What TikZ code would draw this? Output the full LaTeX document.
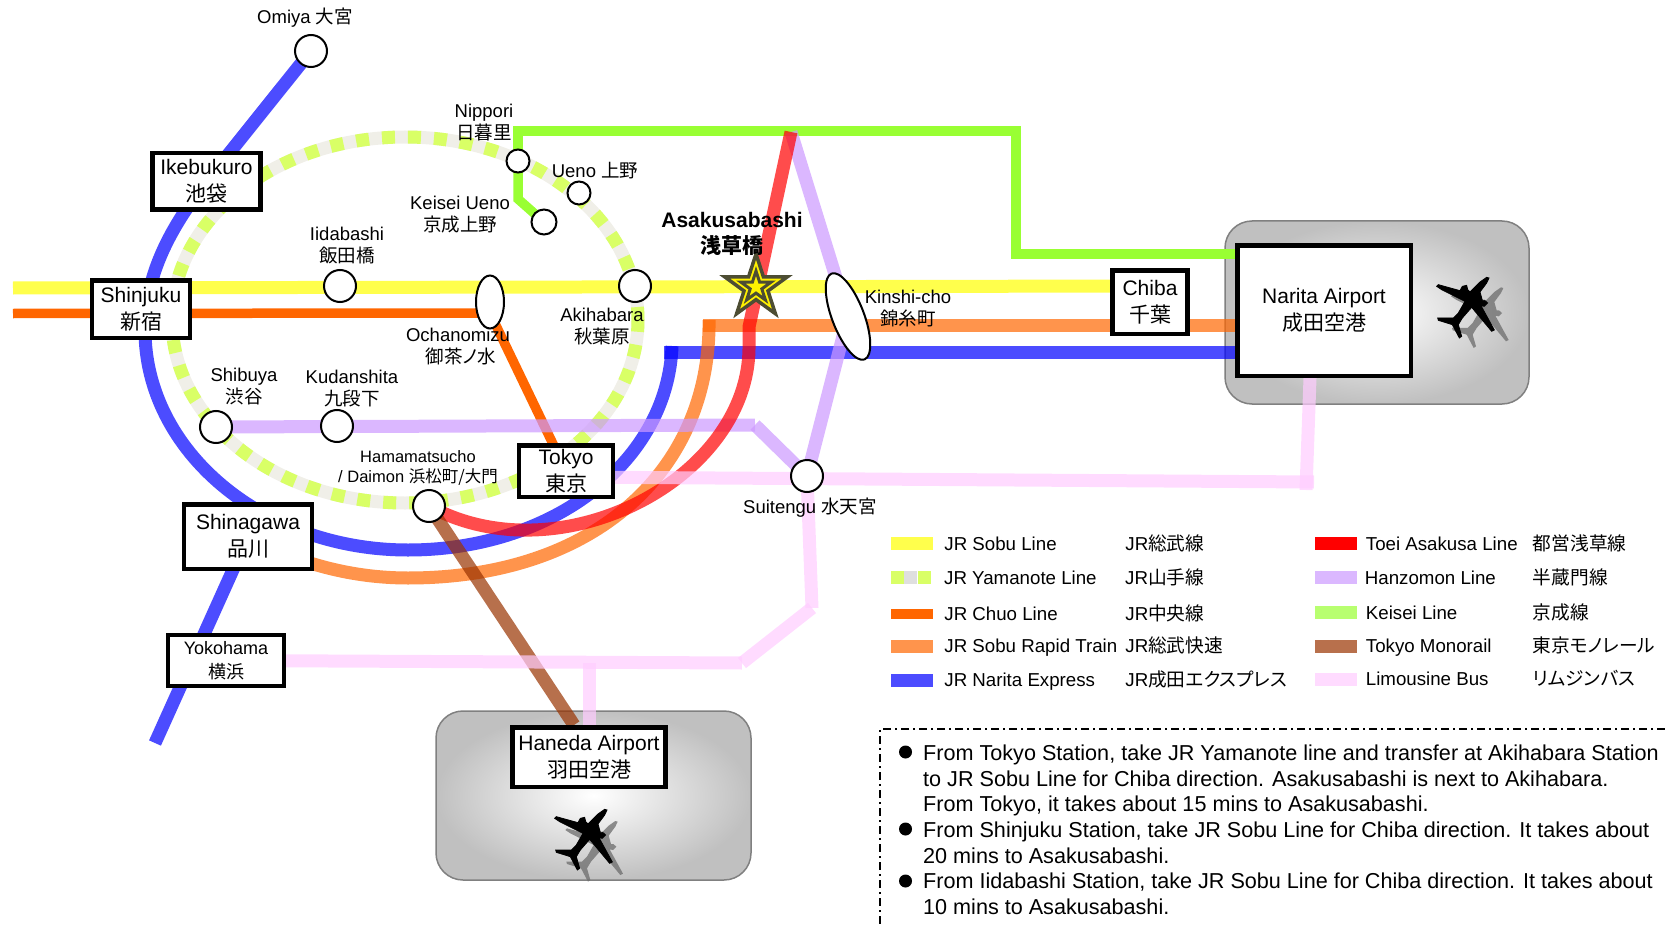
\documentclass[tikz,border=0pt]{standalone}
\usepackage{fontspec}
\setmainfont{Liberation Sans}
\newfontfamily\cjk{Noto Sans CJK JP}
\newfontfamily\cjkp[RawFeature=+palt]{Noto Sans CJK JP}
\newcommand{\jp}[1]{{\cjk #1}}
\newcommand{\jpp}[1]{{\cjkp #1}}
\usetikzlibrary{shapes.geometric,positioning,backgrounds}
\definecolor{sobuyellow}{HTML}{FFFF00}
\definecolor{yamagreen}{HTML}{D9FF66}
\definecolor{yamagray}{HTML}{F0EFE8}
\definecolor{chuoorange}{HTML}{FF6600}
\definecolor{expblue}{HTML}{0000FF}
\definecolor{toeired}{HTML}{FF0000}
\definecolor{hanzopurple}{HTML}{CC99FF}
\definecolor{keiseigreen}{HTML}{99FF33}
\definecolor{monobrown}{HTML}{993300}
\definecolor{limopink}{HTML}{FFCCFF}
\definecolor{panelgray}{HTML}{C0C0C0}
\definecolor{starline}{HTML}{4D4D33}
\pgfdeclarelayer{lines}
\pgfsetlayers{background,lines,main}
\newcommand{\planepath}{(192,30) -- (185,45) -- (165,72) -- (172,97) -- (179,97) -- (188,105)
  -- (178,115) -- (168,113) -- (208,186) -- (200,190) -- (140,118) -- (112,150) -- (100,170)
  -- (110,205) -- (103,210) -- (82,170) -- (40,157) -- (38,150) -- (85,150) -- (100,135)
  -- (120,100) -- (50,65) -- (35,55) -- (40,50) -- (105,68) -- (112,55) -- (125,52) -- (128,65)
  -- (135,72) -- (165,42) -- (185,28) -- cycle}

\begin{document}
\begin{tikzpicture}[x=1pt,y=-1pt,
        stn/.style={circle,draw=black,fill=white,line width=2pt,
                    minimum size=32pt,inner sep=0pt},
        smallstn/.style={stn,minimum size=23pt},
        ovalstn/.style={ellipse,draw=black,fill=white,line width=2pt,inner sep=0pt},
        hub/.style={rectangle,draw=black,fill=white,line width=4.5pt,inner sep=0pt,
                    align=center,font=\fontsize{21}{27}\selectfont,
                    execute at begin node={\rule{0pt}{22pt}}},
        lbl/.style={align=center,inner sep=0pt,font=\fontsize{18.5}{22}\selectfont},
        panel/.style={rectangle,rounded corners=27pt,draw=gray,line width=1.5pt,
                      inner color=white,outer color=panelgray},
        line/.style={line width=13pt,draw opacity=.7},
        lsobu/.style={line,draw=sobuyellow},
        lchuo/.style={draw=chuoorange,line width=9.5pt},
        lrapid/.style={line,draw=chuoorange},
        lexp/.style={line,draw=expblue},
        ltoei/.style={line,draw=toeired},
        lhanzo/.style={line,draw=hanzopurple},
        lkeisei/.style={draw=keiseigreen,line width=9.5pt},
        lmono/.style={line,draw=monobrown},
        llimo/.style={line,draw=limopink},
        swatch/.style={rectangle,minimum width=42pt,minimum height=13pt,inner sep=0pt},
        legtxt/.style={inner sep=0pt,text height=16pt,text depth=4pt,
                       font=\fontsize{18.7}{22}\selectfont},
        para/.style={anchor=north west,align=left,inner sep=0pt,
                     font=\fontsize{21.6}{25.7}\selectfont},
        bul/.style={circle,fill=black,minimum size=13pt,inner sep=0pt}]
  \useasboundingbox (0,0) rectangle (1665,928);

  % airports
  \begin{pgfonlayer}{background}
    \node[panel,minimum width=304pt,minimum height=183pt] (naritapanel) at (1377,312.5) {};
    \node[panel,minimum width=315pt,minimum height=169pt] (hanedapanel) at (593.5,795.5) {};
  \end{pgfonlayer}

  % stations
  \node[stn] (omiya) at (311,51) {};
  \node[stn] (iidabashi) at (340,286) {};
  \node[stn] (akihabara) at (635,286) {};
  \node[stn] (shibuya) at (216,427) {};
  \node[stn] (kudanshita) at (337,426) {};
  \node[stn] (hamamatsucho) at (429,506) {};
  \node[stn] (suitengu) at (807,476) {};
  \node[smallstn] (nippori) at (518,161) {};
  \node[smallstn] (ueno) at (579,193) {};
  \node[smallstn,minimum size=25pt] (keiseiueno) at (544,222) {};
  \node[ovalstn,minimum width=28pt,minimum height=53pt] (ochanomizu) at (490,302) {};
  \node[ovalstn,rotate=21,minimum width=32pt,minimum height=92pt] (kinshicho) at (848,316.5) {};
  \node[star,star points=5,star point ratio=2.618,draw=starline,fill=yellow,line width=3.5pt,
        minimum size=66pt,inner sep=0pt] (asakusabashi) at (756,287) {};
  \node[star,star points=5,star point ratio=2.618,draw=starline,fill=yellow,line width=3pt,
        minimum size=32pt,inner sep=0pt] (asakusacore) at (756,287) {};

  % big stations
  \node[hub,minimum width=108pt,minimum height=56.5pt] (ikebukuro) at (206.5,181.5) {Ikebukuro\\\jp{池袋}};
  \node[hub,minimum width=98pt,minimum height=57.5pt] (shinjuku) at (141,309) {Shinjuku\\\jp{新宿}};
  \node[hub,minimum width=128pt,minimum height=64.5pt] (shinagawa) at (248,536.5) {Shinagawa\\\jp{品川}};
  \node[hub,line width=4pt,minimum width=116pt,minimum height=51pt,
        font=\fontsize{18}{24}\selectfont] (yokohama) at (226,660.5) {Yokohama\\\jp{横浜}};
  \node[hub,minimum width=94pt,minimum height=51.5pt] (tokyo) at (566,471) {Tokyo\\\jp{東京}};
  \node[hub,minimum width=75pt,minimum height=63.5pt] (chiba) at (1150,302) {Chiba\\\jp{千葉}};
  \node[hub,minimum width=173.5pt,minimum height=130.5pt] (narita) at (1324,310.5) {Narita Airport\\\jp{成田空港}};
  \node[hub,minimum width=153pt,minimum height=59.5pt] (haneda) at (589,757) {Haneda Airport\\\jp{羽田空港}};

  % bends and free ends of the lines
  \coordinate (sobuwest) at (13,288);
  \coordinate (sobueast) at (1150,286);
  \coordinate (chuowest) at (13,313.5);
  \coordinate (chuobend) at (490,313);
  \coordinate (expbend) at (672,346);
  \coordinate (expstart) at (664,352);
  \coordinate (expend) at (155,743);
  \coordinate (rapidstart) at (703,325.5);
  \coordinate (rapidbend) at (709,320);
  \coordinate (toeibend) at (749,327);
  \coordinate (asakusatop) at (791,132);
  \coordinate (hanzobend) at (755,425);
  \coordinate (nipporitop) at (518,131);
  \coordinate (keiseieast) at (1016,131);
  \coordinate (keiseilow) at (1016,254);
  \coordinate (keiseidrop) at (518,199);
  \coordinate (limoeast) at (1314,482);
  \coordinate (limobendA) at (742,663);
  \coordinate (limobendB) at (812,608);
  \coordinate (limodrop) at (589,663);

  \begin{pgfonlayer}{lines}
    % yamanote loop
    \draw[yamagray,line width=13pt] (405,320) ellipse [x radius=233pt,y radius=183pt];
    \draw[yamagreen,line width=13pt,dash pattern=on 13pt off 13pt] (405,320) ellipse [x radius=233pt,y radius=183pt];
    % keisei
    \draw[lkeisei] (nippori.center) -- (nipporitop) -- (keiseieast) -- (keiseilow) -- (narita.west |- keiseilow);
    \draw[lkeisei] (nippori.center) -- (keiseidrop) -- (keiseiueno.center);
    % sobu and chuo
    \draw[lsobu] (sobuwest) -- (sobueast);
    \draw[lchuo] (chuowest) -- (chuobend) -- (tokyo.center);
    % narita express
    \draw[lexp] (omiya.center) -- (ikebukuro.center) .. controls (170,228) and (145,275) .. (145,330)
      .. controls (145,451) and (263,550) .. (408,550) .. controls (555,550) and (668,460) .. (expbend);
    \draw[lexp] (expstart) -- (narita.center |- expstart);
    \draw[lexp] (shinagawa.center) -- (expend);
    % sobu rapid
    \draw[lrapid] (shinagawa.center) .. controls (300,565) and (355,578) .. (408,578)
      .. controls (595,578) and (711,470) .. (rapidbend);
    \draw[lrapid] (rapidstart) -- (narita.center |- rapidstart);
    % hanzomon
    \draw[lhanzo] (shibuya.center) -- (hanzobend);
    \draw[lhanzo] (hanzobend) -- (suitengu.center);
    \draw[lhanzo] (suitengu.center) -- (kinshicho.center);
    \draw[lhanzo] (kinshicho.center) -- (asakusatop);
    % toei asakusa
    \draw[ltoei] (hamamatsucho.center) .. controls (560,578) and (751,478) .. (749,345) -- (toeibend) -- (asakusatop);
    % monorail
    \draw[lmono] (hamamatsucho.center) -- ([xshift=-15pt]haneda.north);
    % limousine
    \draw[llimo] (yokohama.center) -- (limobendA);
    \draw[llimo] (limobendA) -- (limobendB);
    \draw[llimo] (limobendB) -- (suitengu.center);
    \draw[llimo] (limodrop) -- (haneda.center);
    \draw[llimo] ([yshift=-6pt]tokyo.center) -- (limoeast);
    \draw[llimo] ([xshift=-8pt,yshift=-8pt]limoeast) -- ([xshift=-14pt]narita.south);
  \end{pgfonlayer}

  % labels
  \node[lbl] (omiyalbl) at (305,18) {Omiya \jp{大宮}};
  \node[lbl] (nipporilbl) at (484,123) {Nippori\\\jp{日暮里}};
  \node[lbl] (uenolbl) at (595,171) {Ueno \jp{上野}};
  \node[lbl] (keiseilbl) at (460,215) {Keisei Ueno\\\jp{京成上野}};
  \node[lbl] (iidabashilbl) at (347,246) {Iidabashi\\\jp{飯田橋}};
  \node[lbl] (ochanomizulbl) at (458,346.5) {Ochanomizu\\\hspace*{6pt}\jpp{御茶ノ水}};
  \node[lbl] (akihabaralbl) at (602,327) {Akihabara\\\jp{秋葉原}};
  \node[lbl] (shibuyalbl) at (244,387) {Shibuya\\\jp{渋谷}};
  \node[lbl] (kudanshitalbl) at (352,389) {Kudanshita\\\jp{九段下}};
  \node[lbl,font=\fontsize{16.5}{20}\selectfont] (hamamatsucholbl) at (418,468) {Hamamatsucho\\/ Daimon \jp{浜松町/大門}};
  \node[lbl] (suitengulbl) at (810,507.5) {Suitengu \jp{水天宮}};
  \node[lbl] (kinshicholbl) at (908,309) {Kinshi-cho\\\jp{錦糸町}};
  \node[lbl,font=\bfseries\fontsize{21}{26}\selectfont] (asakusabashilbl) at (732,234) {Asakusabashi\\{\cjk\bfseries 浅草橋}};

  % planes
  \begin{scope}[shift={(1425,268)},x=.3333pt,y=-.3333pt]
    \fill[gray!85!black,opacity=.75,shift={(43,30)}] \planepath;
    \filldraw[black,line width=.8pt] \planepath;
  \end{scope}
  \begin{scope}[shift={(543,800)},x=.3333pt,y=-.3333pt]
    \fill[gray!85!black,opacity=.75,shift={(32,35)}] \planepath;
    \filldraw[black,line width=.8pt] \planepath;
  \end{scope}

  % legend, left half
  \node[swatch,fill=sobuyellow!70!white] (swsobu) at (912,543) {};
  \node[legtxt,right=11pt of swsobu,yshift=-1.5pt] (txsobu) {JR Sobu Line};
  \node[legtxt,right=192pt of swsobu,yshift=-1.5pt] (jpsobu) {JR\jp{総武線}};
  \node[swatch,fill=yamagreen,minimum width=13pt] (swyamaA) at (897.5,577) {};
  \node[swatch,fill=gray!25,minimum width=13pt,right=0pt of swyamaA] (swyamaB) {};
  \node[swatch,fill=yamagreen,minimum width=13pt,right=0pt of swyamaB] (swyamaC) {};
  \node[legtxt,right=13pt of swyamaC,yshift=-1.5pt] (txyama) {JR Yamanote Line};
  \node[legtxt,right=194pt of swyamaC,yshift=-1.5pt] (jpyama) {JR\jp{山手線}};
  \node[swatch,fill=chuoorange,minimum height=9.5pt] (swchuo) at (912,614) {};
  \node[legtxt,right=11pt of swchuo] (txchuo) {JR Chuo Line};
  \node[legtxt,right=192pt of swchuo] (jpchuo) {JR\jp{中央線}};
  \node[swatch,fill=chuoorange!70!white] (swrapid) at (912,646) {};
  \node[legtxt,right=11pt of swrapid] (txrapid) {JR Sobu Rapid Train};
  \node[legtxt,right=192pt of swrapid] (jprapid) {JR\jp{総武快速}};
  \node[swatch,fill=expblue!70!white] (swexp) at (912,680) {};
  \node[legtxt,right=11pt of swexp,yshift=-.5pt] (txexp) {JR Narita Express};
  \node[legtxt,right=192pt of swexp,yshift=-.5pt] (jpexp) {JR\jpp{成田エクスプレス}};

  % legend, right half
  \node[swatch,fill=toeired] (swtoei) at (1335.5,543) {};
  \node[legtxt,right=9pt of swtoei,yshift=-1.5pt] (txtoei) {Toei Asakusa Line};
  \node[legtxt,right=176pt of swtoei,yshift=-1.5pt] (jptoei) {\jp{都営浅草線}};
  \node[swatch,fill=hanzopurple!70!white] (swhanzo) at (1335.5,577) {};
  \node[legtxt,right=8pt of swhanzo,yshift=-1.5pt] (txhanzo) {Hanzomon Line};
  \node[legtxt,right=176pt of swhanzo,yshift=-1.5pt] (jphanzo) {\jp{半蔵門線}};
  \node[swatch,fill=keiseigreen!70!white] (swkeisei) at (1335.5,612) {};
  \node[legtxt,right=9pt of swkeisei,yshift=-1pt] (txkeisei) {Keisei Line};
  \node[legtxt,right=176pt of swkeisei,yshift=-1pt] (jpkeisei) {\jp{京成線}};
  \node[swatch,fill=monobrown!70!white] (swmono) at (1335.5,646) {};
  \node[legtxt,right=9pt of swmono] (txmono) {Tokyo Monorail};
  \node[legtxt,right=176pt of swmono] (jpmono) {\jpp{東京モノレール}};
  \node[swatch,fill=limopink!70!white] (swlimo) at (1335.5,679) {};
  \node[legtxt,right=9pt of swlimo,yshift=-.5pt] (txlimo) {Limousine Bus};
  \node[legtxt,right=176pt of swlimo,yshift=-.5pt] (jplimo) {\jpp{リムジンバス}};

  % directions
  \coordinate (notecorner) at (880,729);
  \draw[black,line width=1.5pt,dash pattern=on 8pt off 4pt on 2pt off 4pt] (1665,729) -- (notecorner) -- (880,928);
  \node[bul] (bulA) at (905.5,752) {};
  \node[bul] (bulB) at (905.5,829) {};
  \node[bul] (bulC) at (905.5,881) {};
  \node[para] (noteA) at (923,744.5) {From Tokyo Station, take JR Yamanote line and transfer at Akihabara Station\\to JR Sobu Line for Chiba direction.\hspace{8pt}Asakusabashi is next to Akihabara.\\From Tokyo, it takes about 15 mins to Asakusabashi.};
  \node[para] (noteB) at (923,821.5) {From Shinjuku Station, take JR Sobu Line for Chiba direction.\hspace{8pt}It takes about\\20 mins to Asakusabashi.};
  \node[para] (noteC) at (923,872.5) {From Iidabashi Station, take JR Sobu Line for Chiba direction.\hspace{8pt}It takes about\\10 mins to Asakusabashi.};
\end{tikzpicture}
\end{document}
